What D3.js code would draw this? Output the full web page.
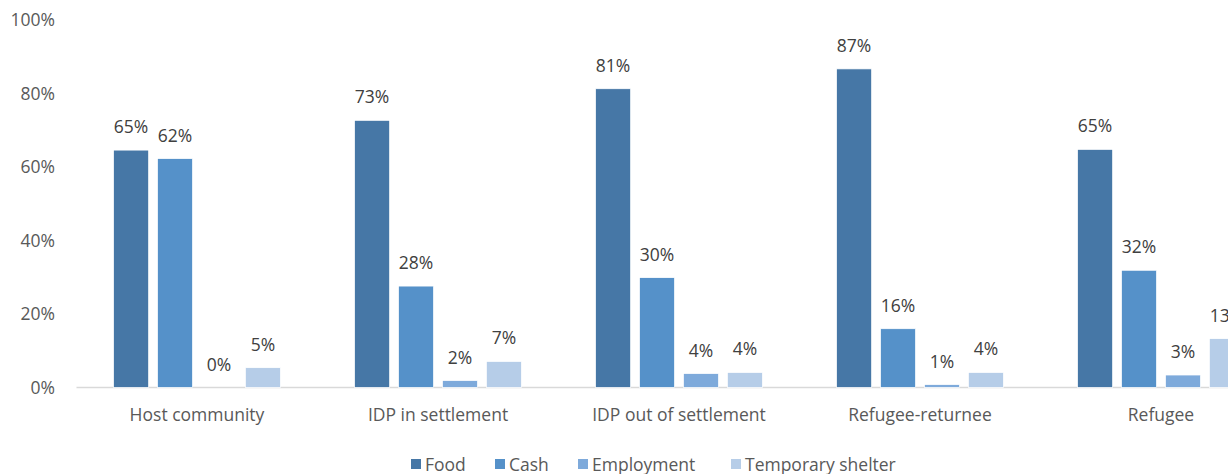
<!DOCTYPE html>
<html><head><meta charset="utf-8">
<script src="https://cdn.jsdelivr.net/npm/d3@7"></script>
<style>body{margin:0;background:#fff;overflow:hidden}svg{display:block}</style>
</head><body>
<svg id="chart" width="1228" height="474"></svg>
<script>
const categories = ["Host community","IDP in settlement","IDP out of settlement","Refugee-returnee","Refugee"];
const seriesNames = ["Food","Cash","Employment","Temporary shelter"];
const food = [64.6, 72.7, 81.3, 86.7, 64.8];
const cash = [62.3, 27.6, 29.9, 16.0, 31.9];
const employment = [0.0, 1.9, 3.8, 0.8, 3.4];
const shelter = [5.4, 7.1, 4.1, 4.1, 13.3];
const yTicks = [0, 20, 40, 60, 80, 100];
const colors = ["#4677A6","#5591C9","#7EAADB","#B6CDE8"];

const series = [food, cash, employment, shelter];
const svg = d3.select("#chart");
const font = "'Open Sans', sans-serif";
const fs = 17.5;
const left = 76.5, bandW = 241;
const x0 = d3.scaleBand().domain(categories).range([left, left + bandW*categories.length]).paddingInner(0).paddingOuter(0);
const x1 = d3.scaleBand().domain(seriesNames).range([0, 167]).paddingInner(0.2);
const y = d3.scaleLinear().domain([0,100]).range([387.5, 20]);

// y labels
svg.append("g").selectAll("text").data(yTicks).join("text")
  .attr("x", 55).attr("y", d => y(d)).attr("dy", "0.35em")
  .attr("text-anchor","end").attr("font-family",font).attr("font-size",fs).attr("fill","#595959")
  .text(d => d + "%");

// axis line
svg.append("line").attr("x1", left).attr("x2", 1228).attr("y1", y(0)).attr("y2", y(0))
  .attr("stroke","#d9d9d9").attr("stroke-width",1.5);

const groups = svg.append("g").selectAll("g").data(categories).join("g")
  .attr("transform", d => `translate(${x0(d) + (bandW-167)/2},0)`);

groups.each(function(cat, ci){
  const g = d3.select(this);
  seriesNames.forEach((s, si) => {
    const v = series[si][ci];
    const bx = x1(s), bw = x1.bandwidth();
    g.append("rect").attr("x", bx).attr("y", y(v)).attr("width", bw).attr("height", y(0)-y(v))
      .attr("fill", colors[si]).attr("stroke","#fff").attr("stroke-width",0.75);
    g.append("text").attr("x", bx + bw/2).attr("y", y(v) - 17)
      .attr("text-anchor","middle").attr("font-family",font).attr("font-size",fs).attr("fill","#404040")
      .text(Math.round(v) + "%");
  });
});

// category labels
svg.append("g").selectAll("text").data(categories).join("text")
  .attr("x", d => x0(d) + bandW/2).attr("y", 421)
  .attr("text-anchor","middle").attr("font-family",font).attr("font-size",fs).attr("fill","#595959")
  .text(d => d);

// legend
const legX = [411, 495, 578, 731];
const leg = svg.append("g").selectAll("g").data(seriesNames).join("g")
  .attr("transform", (d,i) => `translate(${legX[i]},0)`);
leg.append("rect").attr("x",0).attr("y",459).attr("width",10).attr("height",10).attr("fill",(d,i)=>colors[i]);
leg.append("text").attr("x",14).attr("y",471).attr("font-family",font).attr("font-size",fs).attr("fill","#595959").text(d=>d);
</script>
</body></html>
